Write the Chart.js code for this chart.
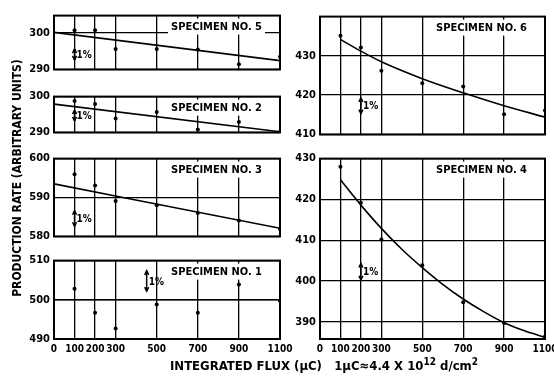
<!DOCTYPE html>
<html>
<head>
<meta charset="utf-8">
<script src="https://cdn.jsdelivr.net/npm/chart.js@4.4.1/dist/chart.umd.min.js"></script>
<style>
  html, body { margin: 0; padding: 0; background: #fff; overflow: hidden; }
  body { width: 554px; height: 381px; position: relative; font-family: 'Liberation Sans Narrow', 'DejaVu Sans Condensed', sans-serif; }
  canvas { position: absolute; }
  #ytitle {
    position: absolute; left: 17px; top: 178px; width: 250px;
    transform: translate(-50%, -50%) rotate(-90deg);
    text-align: center; font-weight: bold; font-size: 12px; white-space: nowrap;
  }
  #xtitle {
    position: absolute; left: 170px; top: 358px; font-weight: bold; font-size: 13px; white-space: nowrap;
  }
  #xtitle sup { font-size: 10px; line-height: 0; }
</style>
</head>
<body>
<canvas id="p5" width="284" height="75" style="left:14px;top:5px"></canvas>
<canvas id="p2" width="284" height="57" style="left:14px;top:86px"></canvas>
<canvas id="p3" width="284" height="99" style="left:14px;top:148px"></canvas>
<canvas id="p1" width="284" height="109" style="left:14px;top:250px"></canvas>
<canvas id="p6" width="283" height="139" style="left:280px;top:6px"></canvas>
<canvas id="p4" width="283" height="211" style="left:280px;top:148px"></canvas>
<div id="ytitle">PRODUCTION RATE (ARBITRARY UNITS)</div>
<div id="xtitle">INTEGRATED FLUX (μC)&nbsp;&nbsp; 1μC≈4.4 X 10<sup>12</sup> d/cm<sup>2</sup></div>
<script>
// flux axis
const fluxTicks = [0, 100, 200, 300, 500, 700, 900, 1100];
const fluxPoints = [100, 200, 300, 500, 700, 900, 1100];
const lineEnds = [0, 1100];
const curve4X = [100, 200, 300, 400, 500, 600, 700, 800, 900, 1000, 1100];

const spec5Rate = [300.75, 300.75, 295.6, 295.6, 295.5, 291.4, 293.5];
const spec5Fit = [300.2, 292.4];
const spec2Rate = [298.8, 297.9, 293.9, 295.7, 290.8, 292.9, 290.2];
const spec2Fit = [297.9, 290.2];
const spec3Rate = [596, 593.1, 589.1, 588, 586, 584.1, 581.9];
const spec3Fit = [593.5, 582.1];
const spec1Rate = [502.8, 496.7, 492.7, 498.8, 496.7, 503.9, 499.75];
const spec1Fit = [500, 500];
const spec6Rate = [435.1, 432.1, 426.2, 423, 422.2, 415.1, 416.1];
const spec6Fit = [434.2, 431.2, 428.5, 424.2, 420.6, 417.3, 414.4];
const spec4Rate = [428, 419.2, 410.2, 403.9, 394.8, 389.7, 386.4];
const spec4Fit = [424.8, 418.6, 412.9, 407.8, 403.3, 399.2, 395.6, 392.5, 389.8, 387.8, 386.2];

// y tick labels per panel
const spec5Ticks = [290, 300];
const spec2Ticks = [290, 300];
const spec3Ticks = [580, 590, 600];
const spec1Ticks = [490, 500, 510];
const spec6Ticks = [410, 420, 430];
const spec4Ticks = [390, 400, 410, 420, 430];

const FONT = "'Liberation Sans Narrow', 'DejaVu Sans Condensed', sans-serif";

// draws the frame, the specimen label and the "1%" arrow
const panelDecor = {
  id: 'panelDecor',
  afterDraw(chart) {
    const o = chart.options.plugins.panelDecor;
    const ctx = chart.ctx;
    const a = chart.chartArea;
    const xs = chart.scales.x, ys = chart.scales.y;
    ctx.save();
    // specimen label with white backing
    ctx.font = 'bold 11px ' + FONT;
    const w = ctx.measureText(o.label).width;
    const tx = a.right - 18 - w;
    const ty = a.top + 11;
    ctx.fillStyle = '#fff';
    ctx.fillRect(tx - 3, ty - 8, w + 6, 16);
    ctx.fillStyle = '#000';
    ctx.textBaseline = 'middle';
    ctx.fillText(o.label, tx, ty + 1);
    // 1% marker
    const mx = xs.getPixelForValue(o.marker[0]);
    const y1 = ys.getPixelForValue(o.marker[1]);
    const y2 = ys.getPixelForValue(o.marker[2]);
    ctx.strokeStyle = '#000';
    ctx.lineWidth = 1.5;
    ctx.beginPath();
    ctx.moveTo(mx, y1); ctx.lineTo(mx, y2); ctx.stroke();
    ctx.beginPath();
    ctx.moveTo(mx - 2, y2 + 4); ctx.lineTo(mx, y2); ctx.lineTo(mx + 2, y2 + 4);
    ctx.moveTo(mx - 2, y1 - 4); ctx.lineTo(mx, y1); ctx.lineTo(mx + 2, y1 - 4);
    ctx.stroke();
    ctx.font = 'bold 10px ' + FONT;
    ctx.fillText('1%', mx + 2, (y1 + y2) / 2 + 1);
    // frame
    ctx.lineWidth = 2;
    ctx.strokeRect(a.left, a.top, a.right - a.left, a.bottom - a.top);
    ctx.restore();
  }
};

function makePanel(id, rate, fitX, fit, yTicks, yMin, yMax, label, marker, showX) {
  new Chart(document.getElementById(id), {
    type: 'line',
    data: {
      datasets: [
        {
          data: fluxPoints.map((f, i) => ({ x: f, y: rate[i] })),
          showLine: false, pointRadius: 2, pointBackgroundColor: '#000', pointBorderWidth: 0
        },
        {
          data: fitX.map((f, i) => ({ x: f, y: fit[i] })),
          borderColor: '#000', borderWidth: 1.6, pointRadius: 0,
          cubicInterpolationMode: 'monotone'
        }
      ]
    },
    options: {
      responsive: false,
      animation: false,
      devicePixelRatio: 1,
      layout: { padding: { left: 0, right: 18, top: 8, bottom: showX ? 0 : 8 } },
      plugins: {
        legend: { display: false },
        tooltip: { enabled: false },
        panelDecor: { label: label, marker: marker }
      },
      scales: {
        x: {
          type: 'linear', min: 0, max: 1100,
          afterBuildTicks: s => { s.ticks = fluxTicks.map(v => ({ value: v })); },
          afterFit: s => { s.height = showX ? 20 : 0; },
          grid: { color: '#000', lineWidth: 1.3, drawTicks: false },
          border: { display: false },
          ticks: {
            display: showX, padding: 4, color: '#000', autoSkip: false,
            maxRotation: 0, minRotation: 0,
            callback: v => String(v),
            font: { family: FONT, size: 10, weight: 'bold' }
          }
        },
        y: {
          min: yMin, max: yMax,
          afterBuildTicks: s => { s.ticks = yTicks.map(v => ({ value: v })); },
          afterFit: s => { s.width = 40; },
          grid: { color: '#000', lineWidth: 1.3, drawTicks: false },
          border: { display: false },
          ticks: {
            padding: 4, color: '#000',
            font: { family: FONT, size: 11, weight: 'bold' }
          }
        }
      }
    },
    plugins: [panelDecor]
  });
}

makePanel('p5', spec5Rate, lineEnds, spec5Fit, spec5Ticks, 290, 304.8, 'SPECIMEN NO. 5', [100, 292.6, 295.6], false);
makePanel('p2', spec2Rate, lineEnds, spec2Fit, spec2Ticks, 290, 300, 'SPECIMEN NO. 2', [100, 293.2, 296.2], false);
makePanel('p3', spec3Rate, lineEnds, spec3Fit, spec3Ticks, 580, 600, 'SPECIMEN NO. 3', [100, 582.6, 586.6], false);
makePanel('p1', spec1Rate, lineEnds, spec1Fit, spec1Ticks, 490, 510, 'SPECIMEN NO. 1', [451, 502.2, 507.4], true);
makePanel('p6', spec6Rate, fluxPoints, spec6Fit, spec6Ticks, 410, 440, 'SPECIMEN NO. 6', [200, 415.3, 419.3], false);
makePanel('p4', spec4Rate, curve4X, spec4Fit, spec4Ticks, 385.8, 430, 'SPECIMEN NO. 4', [200, 400.3, 404.3], true);
</script>
</body>
</html>
